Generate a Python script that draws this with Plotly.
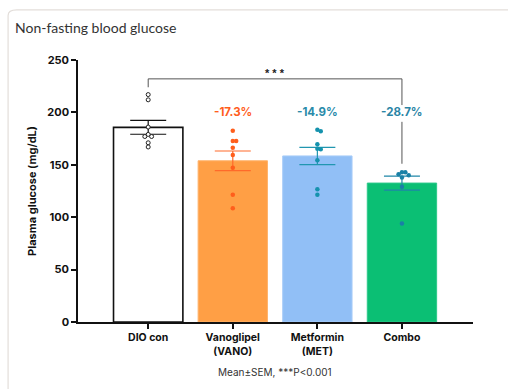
import plotly.graph_objects as go
import numpy as np

categories = ["DIO con", "Vanoglipel<br>(VANO)", "Metformin<br>(MET)", "Combo"]
dio_con = [217, 212, 186, 179, 177, 177, 171, 167]
vano = [182.5, 172.7, 172.7, 166.3, 159.4, 147.2, 121.5, 108.5]
met = [183.5, 182, 169.6, 165.4, 164.8, 154.3, 126.6, 121.5]
combo = [143, 143, 141, 140, 138, 129, 94]
pct_labels = ["", "-17.3%", "-14.9%", "-28.7%"]
y_ticks = [0, 50, 100, 150, 200, 250]

groups = [dio_con, vano, met, combo]
bar_fill = ["#FFFFFF", "#FF9F45", "#91BFF6", "#0BBF74"]
bar_line = ["#111111", "#FFB36B", "#A9CDF8", "#2CC98A"]
dot_col = ["#222222", "#FF5E1C", "#1592AD", "#1A80A6"]
err_col = ["#111111", "#FF6A2A", "#2196B0", "#1F86A8"]
lbl_col = ["#000", "#FF5E1C", "#2A8BAA", "#2A84A5"]

means = [float(np.mean(g)) for g in groups]
sems = [float(np.std(g, ddof=1) / np.sqrt(len(g))) for g in groups]

def swarm(vals, dy=4.0, dx=0.04):
    placed = []
    offs = [0.0] * len(vals)
    order = np.argsort(vals)[::-1]
    for i in order:
        v = vals[i]
        for cand in [0, dx, -dx, 2 * dx, -2 * dx]:
            if all(not (abs(v - pv) < dy and abs(cand - po) < dx * 0.9) for pv, po in placed):
                offs[i] = cand
                placed.append((v, cand))
                break
    return offs

fig = go.Figure()
xs = list(range(len(categories)))
fig.add_trace(go.Bar(
    x=xs, y=means, width=0.82,
    marker=dict(color=bar_fill, line=dict(color=bar_line, width=[1.6, 1, 1, 1])),
    showlegend=False, hoverinfo="skip"))

for i, g in enumerate(groups):
    fig.add_trace(go.Scatter(
        x=[i], y=[means[i]], mode="markers", marker=dict(size=0.1, color="rgba(0,0,0,0)"),
        error_y=dict(type="data", array=[sems[i]], color=err_col[i], thickness=1.2, width=18),
        showlegend=False, hoverinfo="skip"))
    offs = swarm(g)
    if i == 0:
        mk = dict(size=4, color="white", line=dict(color=dot_col[i], width=1), symbol="circle")
    else:
        mk = dict(size=4.5, color=dot_col[i], line=dict(width=0))
    fig.add_trace(go.Scatter(
        x=[i + o for o in offs], y=g, mode="markers", marker=mk,
        showlegend=False, hoverinfo="skip"))

# percent labels
label_y = 200
for i, t in enumerate(pct_labels):
    if t:
        fig.add_annotation(x=i, y=label_y, text="<b>" + t + "</b>", showarrow=False,
                           font=dict(family="Inter", size=11.5, color=lbl_col[i]))

# significance bracket DIO con vs Combo
br_top = 232
lc = "#555555"
left_end = max(dio_con) + 7
right_end = max(combo) + 8
ln = dict(color=lc, width=1)
fig.add_shape(type="line", xref="x", yref="y", x0=0, x1=0, y0=left_end, y1=br_top, line=ln)
fig.add_shape(type="line", xref="x", yref="y", x0=0, x1=3, y0=br_top, y1=br_top, line=ln)
fig.add_shape(type="line", xref="x", yref="y", x0=3, x1=3, y0=br_top, y1=label_y + 7, line=ln)
fig.add_shape(type="line", xref="x", yref="y", x0=3, x1=3, y0=label_y - 9, y1=right_end, line=ln)
fig.add_annotation(x=1.5, y=br_top + 6, text="<b>* * *</b>", showarrow=False,
                   font=dict(family="Liberation Sans", size=11, color="#222"))

# card border
fig.add_shape(type="path", xref="paper", yref="paper",
              path="M -0.177,-0.4 L -0.177,1.17 Q -0.177,1.191 -0.155,1.191 L 1.2,1.191",
              line=dict(color="#E3DEDA", width=1.2))

fig.add_annotation(xref="paper", yref="paper", x=-0.165, y=1.125, xanchor="left", yanchor="middle",
                   text="Non-fasting blood glucose", showarrow=False,
                   font=dict(family="Lato", size=14, color="#333333"))
fig.add_annotation(xref="paper", yref="paper", x=0.498, y=-0.19, xanchor="center", yanchor="middle",
                   text="Mean±SEM, ***P<0.001", showarrow=False,
                   font=dict(family="Inter", size=10, color="#333333"))

fig.update_layout(
    width=508, height=389,
    margin=dict(l=78, r=35, t=60, b=67),
    paper_bgcolor="white", plot_bgcolor="white",
    bargap=0.18,
    xaxis=dict(range=[-0.83, 3.84], tickvals=xs, automargin=False,
               ticktext=["<b>" + c.replace("<br>", "</b><br><b>") + "</b>" for c in categories],
               showline=True, linecolor="#111", linewidth=1.5, ticks="outside", ticklen=5,
               tickcolor="#111", tickwidth=1.5, showgrid=False, zeroline=False,
               tickfont=dict(family="Inter", size=10.5, color="#111")),
    yaxis=dict(range=[0, 250], tickvals=y_ticks, automargin=False,
               ticktext=["<b>%d</b>" % v for v in y_ticks],
               showline=True, linecolor="#111", linewidth=1.5, ticks="outside", ticklen=5,
               tickcolor="#111", tickwidth=1.5, showgrid=False, zeroline=False,
               tickfont=dict(family="Inter", size=11, color="#111"),
               title=dict(text="<b>Plasma glucose (mg/dL)</b>", standoff=8,
                          font=dict(family="Inter", size=11, color="#111"))),
)
fig.write_html("out.html", config={"displayModeBar": False},
               post_script="document.body.style.margin='0';document.body.style.overflow='hidden';")
